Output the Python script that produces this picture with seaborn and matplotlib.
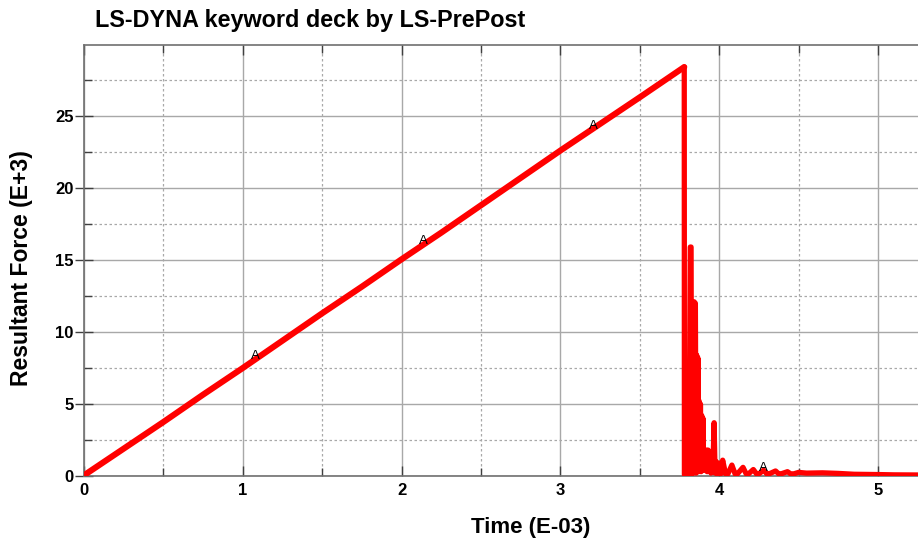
import matplotlib
matplotlib.use("Agg")
import matplotlib.pyplot as plt
from matplotlib.ticker import MultipleLocator
import seaborn as sns
import pandas as pd

# ---- data (Time in E-03, Resultant Force in E+3) ----
ramp_time = [0.0, 0.25, 0.5, 0.75, 1.0, 1.25, 1.5, 1.75, 2.0, 2.25, 2.5,
             2.75, 3.0, 3.25, 3.5, 3.78]
ramp_force = [0.05, 1.9, 3.75, 5.65, 7.5, 9.4, 11.3, 13.15, 15.05, 16.9,
              18.8, 20.7, 22.6, 24.45, 26.3, 28.4]

post_time = [3.780, 3.781, 3.790, 3.798, 3.806, 3.810, 3.818, 3.823, 3.826,
             3.832, 3.836, 3.842, 3.846, 3.850, 3.854, 3.858, 3.862, 3.866,
             3.870, 3.874, 3.878, 3.882, 3.886, 3.890, 3.894, 3.898, 3.902,
             3.906, 3.912, 3.918, 3.924, 3.930, 3.936, 3.942, 3.948, 3.954,
             3.960, 3.968, 3.974, 3.980, 3.990, 4.000, 4.010, 4.022, 4.040,
             4.055, 4.080, 4.100, 4.115, 4.150, 4.170, 4.185, 4.215, 4.235,
             4.250, 4.280, 4.300, 4.315, 4.355, 4.375, 4.390, 4.430, 4.450,
             4.470, 4.500, 4.550, 4.650, 4.750, 4.850, 5.000, 5.100, 5.260]
post_force = [28.4, 0.1, 0.3, 0.1, 6.5, 0.2, 15.9, 15.9, 0.1,
              10.5, 0.2, 12.1, 0.3, 12.0, 0.2, 8.4, 0.4, 8.2,
              0.3, 5.2, 0.5, 5.0, 0.3, 4.2, 0.6, 4.0, 0.4,
              1.8, 0.5, 1.8, 0.3, 1.8, 0.4, 1.7, 0.2, 1.2,
              0.3, 3.7, 0.2, 1.0, 0.15, 0.9, 0.15, 1.1, 0.15,
              0.15, 0.76, 0.15, 0.15, 0.6, 0.15, 0.15, 0.45, 0.15,
              0.15, 0.4, 0.15, 0.15, 0.35, 0.15, 0.15, 0.3, 0.15,
              0.15, 0.25, 0.2, 0.22, 0.18, 0.12, 0.1, 0.08, 0.07]

label_time = [1.08, 2.14, 3.21, 4.28]
label_force = [8.35, 16.3, 24.3, 0.55]
label_text = ["A", "A", "A", "A"]

title = "LS-DYNA keyword deck by LS-PrePost"
xlabel = "Time (E-03)"
ylabel = "Resultant Force (E+3)"

sns.set_style("white")
plt.rcParams["font.family"] = ["Liberation Sans", "DejaVu Sans"]
plt.rcParams["text.color"] = "black"
plt.rcParams["xtick.color"] = "black"
plt.rcParams["ytick.color"] = "black"

fig = plt.figure(figsize=(9.18, 5.43), dpi=100)
ax = fig.add_axes([84 / 918, 1 - 476 / 543, 1 - 84 / 918, (476 - 45) / 543])

ramp_df = pd.DataFrame({"t": ramp_time, "f": ramp_force})
post_df = pd.DataFrame({"t": post_time, "f": post_force})

sns.lineplot(data=ramp_df, x="t", y="f", sort=False, estimator=None,
             color="#ff0000", linewidth=4.4, ax=ax, solid_capstyle="round",
             zorder=5)
sns.lineplot(data=post_df, x="t", y="f", sort=False, estimator=None,
             color="#ff0000", linewidth=3.8, ax=ax, solid_joinstyle="round",
             solid_capstyle="round", zorder=5)

for t, f, s in zip(label_time, label_force, label_text):
    ax.text(t, f, s, ha="center", va="center", fontsize=9.5, color="black",
            zorder=6)

ax.set_xlim(0, 5.252)
ax.set_ylim(0, 29.93)

ax.xaxis.set_major_locator(MultipleLocator(1))
ax.xaxis.set_minor_locator(MultipleLocator(0.5))
ax.yaxis.set_major_locator(MultipleLocator(5))
ax.yaxis.set_minor_locator(MultipleLocator(2.5))

ax.grid(which="major", color="#a8a8a8", linewidth=1.0, linestyle="-")
ax.grid(which="minor", color="#a8a8a8", linewidth=0.9, linestyle=(0, (2, 2)))
ax.set_axisbelow(True)

for side in ["left", "bottom", "top"]:
    ax.spines[side].set_visible(True)
    ax.spines[side].set_color("#707070")
    ax.spines[side].set_linewidth(1.2)
ax.spines["right"].set_visible(False)

ax.tick_params(axis="y", which="major", direction="inout", length=13,
               width=1.0, color="#404040", left=True, right=False,
               labelsize=12, pad=1, labelcolor="black")
ax.tick_params(axis="y", which="minor", direction="in", length=6,
               width=1.0, color="#404040", left=True, right=False)
ax.tick_params(axis="x", which="major", direction="in", length=7,
               width=1.0, color="#404040", bottom=True, top=True,
               labelsize=12, pad=5, labelcolor="black")
ax.tick_params(axis="x", which="minor", direction="in", length=6,
               width=1.0, color="#404040", bottom=True, top=True)
for lab in ax.get_xticklabels() + ax.get_yticklabels():
    lab.set_fontweight("bold")

ax.set_xlabel("")
ax.set_ylabel("")
fig.text(531 / 918, 1 - 527 / 543, xlabel, ha="center", va="center",
         fontsize=16, fontweight="bold", color="black")
fig.text(22 / 918, 1 - 268 / 543, ylabel, ha="center", va="center",
         rotation=90, fontsize=16.5, fontweight="bold", color="black")
fig.text(95 / 918, 1 - 20 / 543, title, ha="left", va="center",
         fontsize=16.8, fontweight="bold", color="black")

fig.savefig("out.png", dpi=100)
